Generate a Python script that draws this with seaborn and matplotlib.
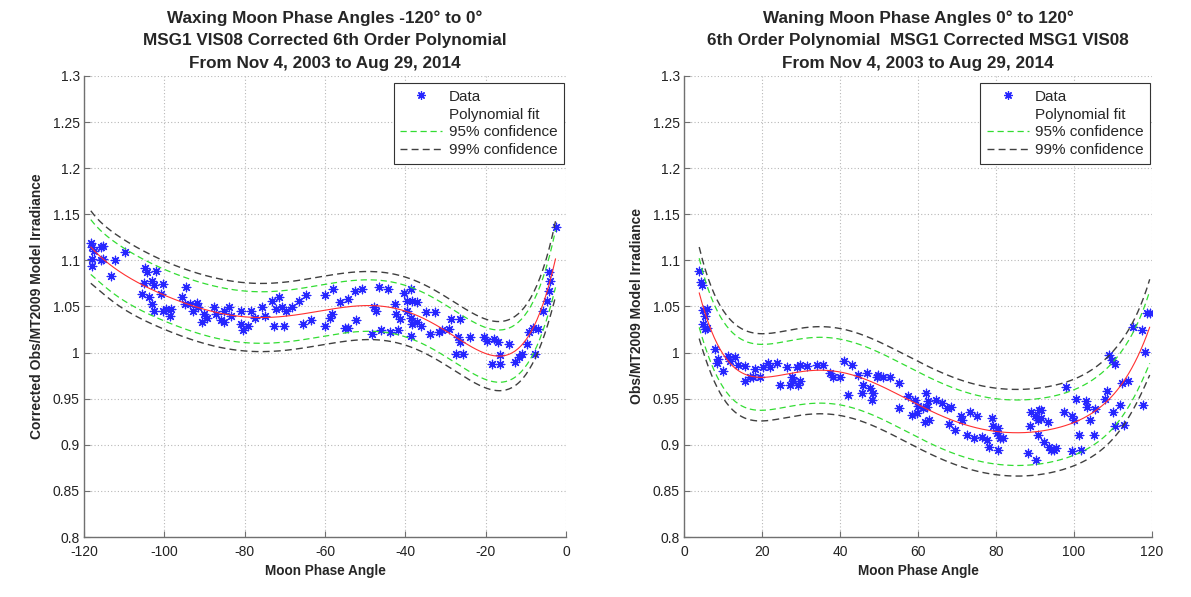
import numpy as np
import matplotlib
matplotlib.use("Agg")
import matplotlib.pyplot as plt
import seaborn as sns
from matplotlib.lines import Line2D

# ---------------- data ----------------
wax_angle = [-118.3, -117.9, -117.4, -115.7, -115.3, -117.9, -115.7, -115.3, -117.9, -112.3, -113.2, -109.8,
             -104.7, -104.3, -102.1, -105.1, -103.0, -102.6, -100.4, -105.5, -103.8, -103.0, -102.6, -100.4,
             -99.6, -98.3, -98.7, -100.9, -94.5, -95.7, -94.9, -93.6, -91.9, -91.5, -92.8, -90.2,
             -89.4, -90.6, -87.7, -87.2, -86.0, -85.1, -85.1, -83.8, -83.4, -80.9, -80.9, -80.4,
             -79.1, -78.3, -77.4, -74.9, -75.7, -73.2, -72.3, -71.5, -70.6, -69.8, -68.1, -66.4,
             -64.7, -72.8, -70.2, -65.5, -63.4, -60.0, -60.0, -58.3, -57.9, -58.7, -56.2, -54.9,
             -54.3, -54.3, -52.6, -52.2, -50.9, -47.8, -47.4, -46.5, -44.3, -46.1, -48.3, -43.9,
             -42.6, -41.7, -42.2, -41.3, -40.4, -39.6, -38.7, -38.3, -37.0, -39.6, -38.7, -38.3,
             -37.0, -36.1, -38.7, -34.8, -32.6, -33.9, -31.7, -30.9, -29.1, -28.7, -26.5, -27.0,
             -26.5, -25.7, -27.4, -23.9, -20.4, -19.6, -17.8, -17.0, -18.3, -16.5, -16.5, -14.3,
             -12.6, -11.7, -10.9, -9.6, -9.1, -8.3, -7.0, -7.8, -5.7, -4.8, -4.3, -4.3, -3.9, -2.6]
wax_ratio = [1.119, 1.114, 1.110, 1.114, 1.116, 1.101, 1.100, 1.101, 1.094, 1.100, 1.083, 1.109,
             1.092, 1.087, 1.089, 1.076, 1.078, 1.073, 1.074, 1.064, 1.060, 1.053, 1.045, 1.045,
             1.047, 1.047, 1.040, 1.064, 1.071, 1.060, 1.053, 1.053, 1.054, 1.049, 1.045, 1.042,
             1.038, 1.033, 1.049, 1.042, 1.035, 1.033, 1.045, 1.049, 1.040, 1.045, 1.031, 1.024,
             1.029, 1.045, 1.038, 1.040, 1.049, 1.056, 1.047, 1.060, 1.049, 1.045, 1.049, 1.056,
             1.062, 1.029, 1.029, 1.031, 1.035, 1.062, 1.029, 1.042, 1.069, 1.037, 1.055, 1.027,
             1.058, 1.027, 1.067, 1.035, 1.069, 1.049, 1.045, 1.071, 1.069, 1.024, 1.020, 1.022,
             1.053, 1.024, 1.042, 1.036, 1.065, 1.056, 1.069, 1.056, 1.055, 1.045, 1.038, 1.031,
             1.033, 1.029, 1.018, 1.044, 1.044, 1.020, 1.022, 1.024, 1.026, 1.036, 1.036, 1.017,
             1.011, 0.999, 0.999, 1.017, 1.017, 1.013, 1.015, 1.011, 0.988, 0.988, 0.997, 1.009,
             0.990, 0.995, 0.999, 1.009, 1.022, 1.027, 1.026, 0.999, 1.045, 1.056, 1.067, 1.087, 1.078, 1.136]

wan_angle = [3.9, 4.4, 4.5, 5.0, 5.8, 5.4, 5.0, 5.8, 5.4, 7.9, 8.8, 8.4, 10.1, 11.4, 11.8, 13.1, 13.9,
             15.6, 15.6, 16.9, 17.8, 18.2, 19.5, 20.3, 21.6, 22.1, 23.8, 24.6, 26.3, 27.2, 27.6, 28.0,
             28.9, 29.7, 29.3, 29.7, 31.5, 34.0, 35.7, 37.4, 38.3, 40.0, 40.9, 43.0, 42.1, 44.7, 45.6,
             46.8, 46.0, 47.7, 48.1, 48.5, 49.4, 49.8, 51.1, 52.8, 55.0, 55.0, 57.5, 58.4, 59.2, 60.1,
             59.7, 61.4, 61.8, 62.6,
             62.0, 62.4, 62.9, 64.6, 66.2, 67.5, 68.4, 67.9, 69.6, 70.9, 71.3, 72.6, 73.4, 74.3, 75.1,
             76.4, 77.6, 78.1, 78.9, 79.3, 80.6, 80.2, 81.0, 81.9, 80.6, 88.2, 88.6, 89.0, 89.9, 90.7,
             91.1, 91.6, 90.3, 90.7, 91.6, 93.2, 92.4, 93.7, 94.1, 94.9, 95.4, 97.5, 97.9, 99.6, 100.0,
             99.6, 100.4, 101.3, 101.7, 103.0, 103.4, 104.2, 105.1, 105.5, 108.0, 108.4, 108.9, 109.7,
             110.5, 110.1, 110.5, 111.8, 112.2, 112.7, 113.9, 115.2, 117.3, 117.7, 118.6, 119.4, 118.1]
wan_ratio = [1.088, 1.077, 1.073, 1.046, 1.047, 1.040, 1.031, 1.027, 1.026, 1.004, 0.993, 0.989, 0.980,
             0.996, 0.991, 0.995, 0.987, 0.985, 0.969, 0.973, 0.973, 0.982, 0.973, 0.984, 0.989, 0.984,
             0.989, 0.965, 0.984, 0.965, 0.973, 0.969, 0.984, 0.969, 0.965, 0.987, 0.985, 0.987, 0.987,
             0.978, 0.974, 0.973, 0.991, 0.987, 0.954, 0.976, 0.956, 0.978, 0.965, 0.962, 0.949, 0.956,
             0.974, 0.976, 0.974, 0.973, 0.967, 0.940, 0.953, 0.932, 0.949, 0.942, 0.934, 0.940, 0.925, 0.947,
             0.956, 0.941, 0.927, 0.949, 0.945, 0.940, 0.941, 0.923, 0.916, 0.931, 0.927, 0.911, 0.936,
             0.907, 0.931, 0.909, 0.905, 0.898, 0.929, 0.920, 0.894, 0.913, 0.907, 0.907, 0.918, 0.891,
             0.920, 0.936, 0.931, 0.927, 0.938, 0.929, 0.884, 0.911, 0.938, 0.925, 0.903, 0.898, 0.894,
             0.894, 0.896, 0.936, 0.963, 0.931, 0.927, 0.893, 0.950, 0.911, 0.894, 0.947, 0.941, 0.927,
             0.911, 0.939, 0.950, 0.958, 0.997, 0.992, 0.988, 0.936, 0.920, 0.943, 0.967, 0.922, 0.969,
             1.028, 1.025, 0.943, 1.043, 1.043, 1.001]

wax_xticks = [-120, -100, -80, -60, -40, -20, 0]
wan_xticks = [0, 20, 40, 60, 80, 100, 120]
yticks = [0.8, 0.85, 0.9, 0.95, 1.0, 1.05, 1.1, 1.15, 1.2, 1.25, 1.3]
ytick_labels = ["0.8", "0.85", "0.9", "0.95", "1", "1.05", "1.1", "1.15", "1.2", "1.25", "1.3"]

wax_title = ("Waxing Moon Phase Angles -120\u00b0 to 0\u00b0\n"
             "MSG1 VIS08 Corrected 6th Order Polynomial\n"
             "From Nov 4, 2003 to Aug 29, 2014")
wan_title = ("Waning Moon Phase Angles 0\u00b0 to 120\u00b0\n"
             "6th Order Polynomial  MSG1 Corrected MSG1 VIS08\n"
             "From Nov 4, 2003 to Aug 29, 2014")
wax_ylabel = "Corrected Obs/MT2009 Model Irradiance"
wan_ylabel = "Obs/MT2009 Model Irradiance"
xlabel = "Moon Phase Angle"
legend_labels = ["Data", "Polynomial fit", "95% confidence", "99% confidence"]

assert len(wax_angle) == len(wax_ratio)
assert len(wan_angle) == len(wan_ratio)

# ---------------- style ----------------
sns.set_theme(style="white")
plt.rcParams["font.family"] = ["Liberation Sans", "DejaVu Sans"]

STAR = (8, 2, 0)
BLUE = "#2626ff"


def poly_fit(x, y, order=6, n=300):
    x = np.asarray(x, float)
    y = np.asarray(y, float)
    X = np.vander(x / 100.0, order + 1)
    coef, *_ = np.linalg.lstsq(X, y, rcond=None)
    resid = y - X @ coef
    dof = len(y) - (order + 1)
    s2 = resid @ resid / dof
    xtxi = np.linalg.inv(X.T @ X)
    xg = np.linspace(x.min(), x.max(), n)
    G = np.vander(xg / 100.0, order + 1)
    fit = G @ coef
    se = np.sqrt(s2 * (1.0 + np.einsum("ij,jk,ik->i", G, xtxi, G)))
    return xg, fit, se


fig = plt.figure(figsize=(11.91, 5.97), dpi=100)
ax1 = fig.add_axes([0.0705, 0.1005, 0.4047, 0.7722])
ax2 = fig.add_axes([0.5743, 0.1005, 0.3930, 0.7722])

panels = [
    (ax1, wax_angle, wax_ratio, wax_xticks, wax_title, wax_ylabel),
    (ax2, wan_angle, wan_ratio, wan_xticks, wan_title, wan_ylabel),
]

for ax, xa, ya, xt, title, ylab in panels:
    xg, fit, se = poly_fit(xa, ya)
    sns.scatterplot(x=xa, y=ya, ax=ax, marker=STAR, s=38, color=BLUE,
                    edgecolor=BLUE, linewidth=0.9, zorder=3)
    sns.lineplot(x=xg, y=fit, ax=ax, color="#ff3030", linewidth=0.8, sort=False,
                 errorbar=None, zorder=4)
    for k, col, dash, lw in [(1.98, "#33dd33", (5, 3), 0.9), (2.62, "#404040", (5, 3), 1.0)]:
        for sgn in (1, -1):
            sns.lineplot(x=xg, y=fit + sgn * k * se, ax=ax, color=col, linewidth=lw,
                         sort=False, errorbar=None, zorder=4).lines[-1].set_dashes(dash)

    ax.set_xlim(xt[0], xt[-1])
    ax.set_ylim(0.8, 1.3)
    ax.set_xticks(xt)
    ax.set_xticklabels([str(v) for v in xt])
    ax.set_yticks(yticks)
    ax.set_yticklabels(ytick_labels)
    ax.grid(True, linestyle=(0, (1, 2)), color="#b8b8b8", linewidth=0.8)
    for sp in ("top", "right"):
        ax.spines[sp].set_visible(False)
    for sp in ("left", "bottom"):
        ax.spines[sp].set_color("#707070")
        ax.spines[sp].set_linewidth(1.0)
    ax.tick_params(direction="in", length=4, width=0.8, color="#707070",
                   labelsize=10, labelcolor="#222222", left=True, bottom=True)
    ax.tick_params(axis="x", pad=6)
    ax.tick_params(axis="y", pad=3)
    ax.set_title(title, fontsize=12.3, fontweight="bold", pad=6, linespacing=1.6)
    ax.set_xlabel(xlabel, fontsize=9.8, fontweight="bold", labelpad=3)
    ax.set_ylabel(ylab, fontsize=10, fontweight="bold", labelpad=6)

    handles = [
        Line2D([], [], marker=STAR, linestyle="None", color=BLUE, markersize=6, markeredgewidth=0.9),
        Line2D([], [], linestyle="None"),
        Line2D([], [], color="#33dd33", linewidth=0.9, dashes=(5, 3)),
        Line2D([], [], color="#404040", linewidth=1.0, dashes=(5, 3)),
    ]
    leg = ax.legend(handles, legend_labels, loc="upper right", bbox_to_anchor=(0.996, 0.985),
                    fontsize=11, frameon=True, fancybox=False, edgecolor="#333333", framealpha=1,
                    borderpad=0.45, handlelength=2.75, handletextpad=0.4, labelspacing=0.25,
                    borderaxespad=0.0)
    leg.get_frame().set_linewidth(0.8)

fig.savefig("out.png", dpi=100, facecolor="white")
